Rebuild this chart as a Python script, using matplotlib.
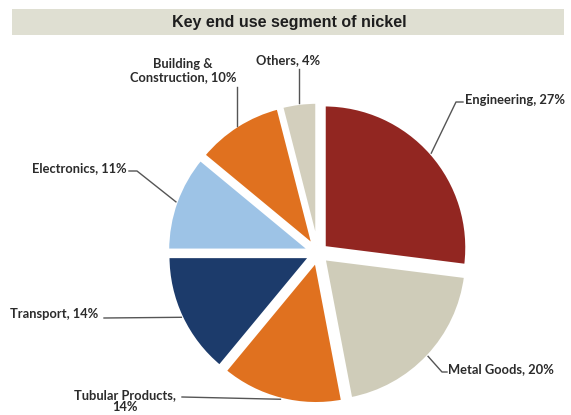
import math
import matplotlib
matplotlib.use("Agg")
import matplotlib.pyplot as plt
from matplotlib.patches import Rectangle

# end use shares of nickel (%), clockwise from 12 o'clock
segments = ["Engineering", "Metal Goods", "Tubular Products", "Transport",
            "Electronics", "Building & Construction", "Others"]
shares = [27, 20, 14, 14, 11, 10, 4]
colors = ["#922621", "#cfccb9", "#e0711f", "#1c3b6b", "#9dc3e6", "#e0711f", "#d3cfbd"]

W, H = 571, 415
fig = plt.figure(figsize=(W / 100, H / 100), dpi=100)
ax = fig.add_axes([0, 0, 1, 1])

# title band
ax.add_patch(Rectangle((12, 9), 552, 26, facecolor="#dfdfd2", edgecolor="none", zorder=1))
ax.text(289, 22, "Key end use segment of nickel", ha="center", va="center",
        fontsize=11.5, fontweight="bold", family="Liberation Sans", color="#1e1e1e", zorder=2)

# y axis is flipped, so counterclockwise in data is clockwise on screen
cx, cy, r = 318, 253, 143
wedges, _ = ax.pie(shares, colors=colors, startangle=-90, counterclock=True,
                   center=(cx, cy), radius=r, explode=[8] * len(shares),
                   wedgeprops=dict(edgecolor="white", linewidth=2.5), frame=True)
ax.set_xlim(0, W)
ax.set_ylim(H, 0)
ax.set_aspect("equal")
ax.axis("off")


def mid_point(w):
    t = math.radians((w.theta1 + w.theta2) / 2)
    x0, y0 = w.center
    return x0 + w.r * math.cos(t), y0 + w.r * math.sin(t)


def top_point(w, x):
    x0, y0 = w.center
    return x, y0 - math.sqrt(w.r ** 2 - (x - x0) ** 2)


lbl = dict(fontsize=9.3, fontweight="bold", family="Lato", color="#2b2b2b", zorder=5)
lead = dict(color="#555555", lw=1.0, zorder=4)

texts = [f"{s}, {v}%" for s, v in zip(segments, shares)]

# Engineering
ax.text(465, 100, texts[0], ha="left", va="center", **lbl)
ax_, ay_ = mid_point(wedges[0])
ax.plot([463, 456, ax_], [102, 102, ay_], **lead)

# Metal Goods
ax.text(448, 369, texts[1], ha="left", va="center", **lbl)
ax_, ay_ = mid_point(wedges[1])
ax.plot([ax_, 442, 447], [ay_, 372, 372], **lead)

# Tubular Products
ax.text(125, 401, "Tubular Products,\n14%", ha="center", va="center",
        multialignment="center", linespacing=1.05, **lbl)
ax_, ay_ = mid_point(wedges[2])
ax.plot([182, ax_], [397, ay_], **lead)

# Transport
ax.text(10, 314, texts[3], ha="left", va="center", **lbl)
ax_, ay_ = mid_point(wedges[3])
ax.plot([104, ax_], [318, ay_], **lead)

# Electronics
ax.text(127, 168, texts[4], ha="right", va="center", **lbl)
ax_, ay_ = mid_point(wedges[4])
ax.plot([129, 137, ax_], [171, 171, ay_], **lead)

# Building & Construction
ax.text(183, 71, "Building &\nConstruction, 10%", ha="center", va="center",
        multialignment="center", linespacing=1.1, **lbl)
bx, by = top_point(wedges[5], 237)
ax.plot([237, bx], [87, by], **lead)

# Others
ax.text(288, 60, texts[6], ha="center", va="center", **lbl)
ox, oy = top_point(wedges[6], 299)
ax.plot([299, ox], [69, oy], **lead)

fig.savefig("out.png", dpi=100)
